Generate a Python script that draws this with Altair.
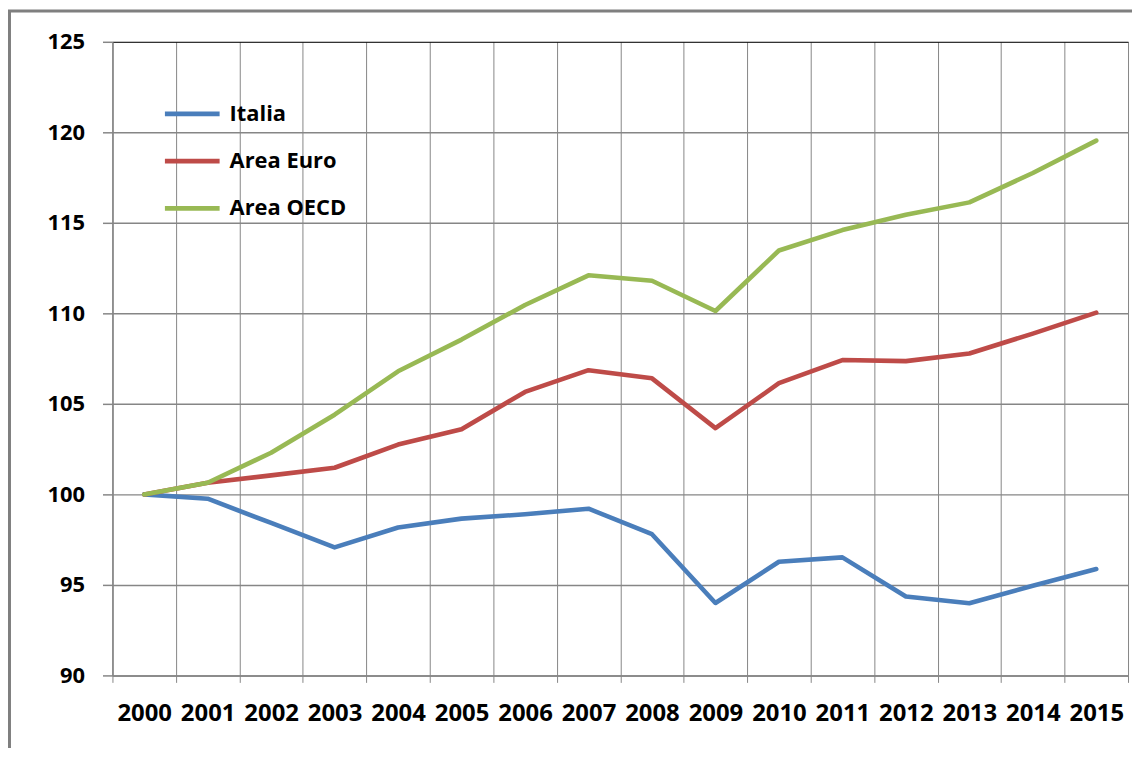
import altair as alt
import pandas as pd

years = [str(y) for y in range(2000, 2016)]
italia = [100.0, 99.76, 98.42, 97.07, 98.17, 98.66, 98.9, 99.21, 97.8, 94.0, 96.28, 96.52, 94.36, 93.99, 94.95, 95.88]
euro = [100.0, 100.64, 101.05, 101.47, 102.75, 103.6, 105.66, 106.86, 106.41, 103.66, 106.14, 107.42, 107.36, 107.78, 108.88, 110.04]
oecd = [100.0, 100.64, 102.3, 104.4, 106.8, 108.55, 110.46, 112.1, 111.8, 110.13, 113.47, 114.6, 115.45, 116.13, 117.75, 119.54]
series_names = ["Italia", "Area Euro", "Area OECD"]
series_colors = ["#4A7EBB", "#BE4B48", "#98B954"]
y_ticks = [90, 95, 100, 105, 110, 115, 120, 125]

rows = []
for name, vals in zip(series_names, [italia, euro, oecd]):
    for yr, v in zip(years, vals):
        rows.append({"Anno": yr, "Valore": v, "Serie": name})
df = pd.DataFrame(rows)

FONT = "Open Sans"
GRID = "#868686"

lines = alt.Chart(df).mark_line(strokeWidth=4.6, strokeJoin="round", strokeCap="round").encode(
    x=alt.X(
        "Anno:N",
        sort=years,
        scale=alt.Scale(type="band", paddingInner=0, paddingOuter=0),
        axis=alt.Axis(
            title=None, labelAngle=0, tickBand="extent", grid=True, gridColor=GRID, gridWidth=1,
            tickSize=7, tickColor=GRID, tickWidth=1, domainColor=GRID, domainWidth=1.5,
            labelPadding=19, labelFont=FONT, labelFontSize=24, labelFontWeight="bold", labelColor="#000000",
        ),
    ),
    y=alt.Y(
        "Valore:Q",
        scale=alt.Scale(domain=[90, 125], nice=False, zero=False),
        axis=alt.Axis(
            title=None, values=y_ticks, grid=True,
            gridColor=alt.condition("datum.value >= 125", alt.value("#000000"), alt.value(GRID)),
            gridWidth=alt.condition("datum.value >= 125", alt.value(1), alt.value(1.5)),
            tickSize=10, tickColor=GRID, tickWidth=1.5, domainColor=GRID, domainWidth=1.5,
            labelPadding=18, labelFont=FONT, labelFontSize=22, labelFontWeight="bold", labelColor="#000000",
        ),
    ),
    color=alt.Color(
        "Serie:N",
        sort=series_names,
        scale=alt.Scale(domain=series_names, range=series_colors),
        legend=alt.Legend(
            title=None, orient="none", legendX=63.75, legendY=56,
            symbolType="M-2,0H2", symbolSize=756, symbolStrokeWidth=4.6,
            labelFont=FONT, labelFontSize=22, labelFontWeight="bold", labelColor="#000000",
            labelOffset=21, rowPadding=19.5,
        ),
    ),
)

frame = alt.Chart(pd.DataFrame({"f": [0]})).mark_rect(
    filled=False, stroke="#7F7F7F", strokeWidth=3
).encode(
    x=alt.value(-103.5), x2=alt.value(1200), y=alt.value(-31), y2=alt.value(900)
)

chart = alt.layer(frame, lines).properties(
    width=1021,
    height=637,
    autosize=alt.AutoSizeParams(type="none"),
    padding={"left": 105, "top": 32, "right": 4, "bottom": 71},
).configure_view(stroke="#000000", strokeWidth=1).configure(background="#FFFFFF")

chart.save("out.html", embed_options={"renderer": "svg", "actions": False})
